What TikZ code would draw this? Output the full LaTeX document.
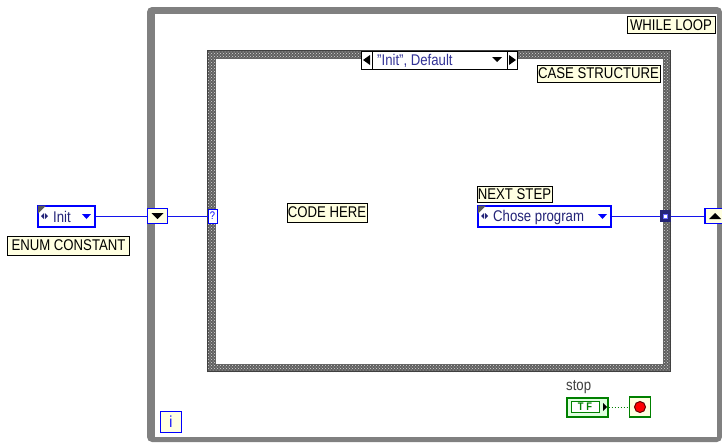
\documentclass[tikz,border=0pt]{standalone}
\usepackage{fontspec}
\setmainfont{Liberation Sans}[FakeStretch=0.85]
\usetikzlibrary{arrows.meta,calc,positioning,patterns}
\definecolor{loopgray}{RGB}{128,128,128}
\definecolor{hatchgray}{RGB}{95,95,95}
\definecolor{notebg}{RGB}{255,255,225}
\definecolor{enumblue}{RGB}{0,0,255}
\definecolor{wireblue}{RGB}{20,20,235}
\definecolor{enumtext}{RGB}{35,35,120}
\definecolor{seltext}{RGB}{50,50,150}
\definecolor{boolgreen}{RGB}{0,128,0}
\definecolor{stopred}{RGB}{255,0,0}
\tikzset{
  note/.style={draw=black,line width=1pt,fill=notebg,inner sep=0pt,minimum height=18pt},
  enumbox/.style={draw=enumblue,line width=2pt,fill=white,inner sep=0pt,minimum height=21pt},
  termbox/.style={draw=enumblue,line width=1.6pt,fill=notebg,inner sep=0pt},
  wire/.style={wireblue,line width=1pt},
  every node/.style={font=\fontsize{15.5}{17}\selectfont},
}
% corner mark, arrows and drop-down triangle of an enum constant
\newcommand{\enumdeco}[1]{%
  \fill[black!65] ($(#1.north west)+(1,1)$) -- ++(8,0) -- ++(-8,8) -- cycle;%
  \fill[enumtext] ($(#1.west)+(4,0)$) -- ++(3,-3) -- ++(0,6) -- cycle;%
  \fill[enumtext] ($(#1.west)+(11,0)$) -- ++(-3,-3) -- ++(0,6) -- cycle;%
  \fill[enumblue] ($(#1.east)+(-14,-2)$) -- ++(9,0) -- ++(-4.5,5) -- cycle;%
}

\begin{document}
\begin{tikzpicture}[x=1pt,y=-1pt]
  \fill[white] (0,0) rectangle (722,442);
  \useasboundingbox (0,0) rectangle (722,442);
  % while loop
  \fill[loopgray,rounded corners=5pt] (147,7) rectangle (722,442);
  \fill[white] (155,14) rectangle (717,437);
  \node[note,minimum width=88pt,minimum height=17pt] (whilelbl) at (671,25) {WHILE LOOP};
  % case structure
  \fill[hatchgray] (207,50) rectangle (671,372);
  \fill[pattern=crosshatch dots,pattern color=white!85!black] (207,50) rectangle (671,372);
  \fill[white] (215,58) rectangle (663,364);
  \draw[black!75,line width=1pt] (207.5,50.5) rectangle (670.5,371.5);
  \draw[black!60,line width=0.6pt] (215,58) rectangle (663,364);
  \node[note,minimum width=123pt,minimum height=17pt] (caselbl) at (598.5,73.5) {CASE STRUCTURE};
  \node[draw=black,line width=0.8pt,fill=white,minimum width=156pt,minimum height=18pt,inner sep=0pt] (selbox) at (439,60) {};
  \draw[black,line width=0.8pt] (372,51) -- (372,69) (507,51) -- (507,69);
  \fill[black] (363,60) -- ++(7,-5) -- ++(0,10) -- cycle;
  \fill[black] (516,60) -- ++(-7,-5) -- ++(0,10) -- cycle;
  \fill[black] (492,57) -- ++(10,0) -- ++(-5,5) -- cycle;
  \node[anchor=west,text=seltext,inner sep=0pt] (seltxt) at (377,60.5) {"Init", Default};
  \node[note,minimum width=80pt,minimum height=19pt] (codelbl) at (327,212.5) {CODE HERE};
  % input enum and shift registers
  \node[enumbox,minimum width=57pt] (initenum) at (66.5,216) {};
  \node[anchor=west,text=enumtext,inner sep=0pt] (inittxt) at (53,217) {Init};
  \enumdeco{initenum}
  \node[note,minimum width=122pt,minimum height=19pt] (enumlbl) at (68.5,245.5) {ENUM CONSTANT};
  \node[termbox,minimum width=20pt,minimum height=15pt] (srleft) at (157.5,216) {};
  \fill[black] (151.5,213) -- ++(12,0) -- ++(-6,6) -- cycle;
  \node[draw=enumblue,line width=1pt,fill=white,minimum width=9pt,minimum height=14pt,inner sep=0pt,text=enumblue,font=\fontsize{11}{12}\selectfont] (seltun) at (212.5,216) {?};
  \draw[wire] (initenum.east) -- (srleft.west);
  \draw[wire] (srleft.east) -- (seltun.west);
  % next step
  \node[note,minimum width=75pt,minimum height=16pt] (nextlbl) at (514.5,194) {NEXT STEP};
  \node[enumbox,minimum width=133pt] (chose) at (544.5,216) {};
  \node[anchor=west,text=enumtext,inner sep=0pt] (chosetxt) at (493,217) {Chose program};
  \enumdeco{chose}
  \node[draw=enumtext,line width=1.5pt,fill=enumtext,minimum size=10pt,inner sep=0pt] (outtun) at (665.5,216) {};
  \node[draw=enumblue!60,line width=0.8pt,fill=white,minimum size=4pt,inner sep=0pt] (outdot) at (outtun.center) {};
  \node[termbox,minimum width=20pt,minimum height=15pt] (srright) at (715,216) {};
  \fill[black] (709,219) -- ++(12,0) -- ++(-6,-6) -- cycle;
  \draw[wire] (chose.east) -- (outtun.west);
  \draw[wire] (outtun.east) -- (srright.west);
  % stop condition and iteration terminal
  \node[anchor=west,text=black!75,inner sep=0pt] (stoplbl) at (566,387) {stop};
  \node[draw=boolgreen,line width=2pt,fill=green!12,minimum width=41pt,minimum height=19pt,inner sep=0pt] (stopctl) at (587,407) {};
  \node[draw=boolgreen,line width=1pt,fill=white,minimum width=28pt,minimum height=11pt,inner sep=0pt,text=boolgreen,font=\fontsize{11}{12}\bfseries\selectfont] (stoptf) at (585,407) {T F};
  \fill[black] (603,403) -- ++(4,4) -- ++(-4,4) -- cycle;
  \node[draw=boolgreen,line width=1.2pt,fill=notebg,minimum width=21pt,minimum height=20pt,inner sep=0pt] (stopterm) at (640,407) {};
  \node[circle,fill=stopred,draw=red!40!black,line width=1pt,minimum size=11pt,inner sep=0pt] (stopdot) at (stopterm.center) {};
  \draw[boolgreen,dotted,line width=1pt] (stopctl.east) -- (stopterm.west);
  \node[termbox,minimum width=21pt,minimum height=21pt,text=enumblue,font=\fontsize{16}{17}\selectfont] (iterm) at (171,422) {i};
\end{tikzpicture}
\end{document}
